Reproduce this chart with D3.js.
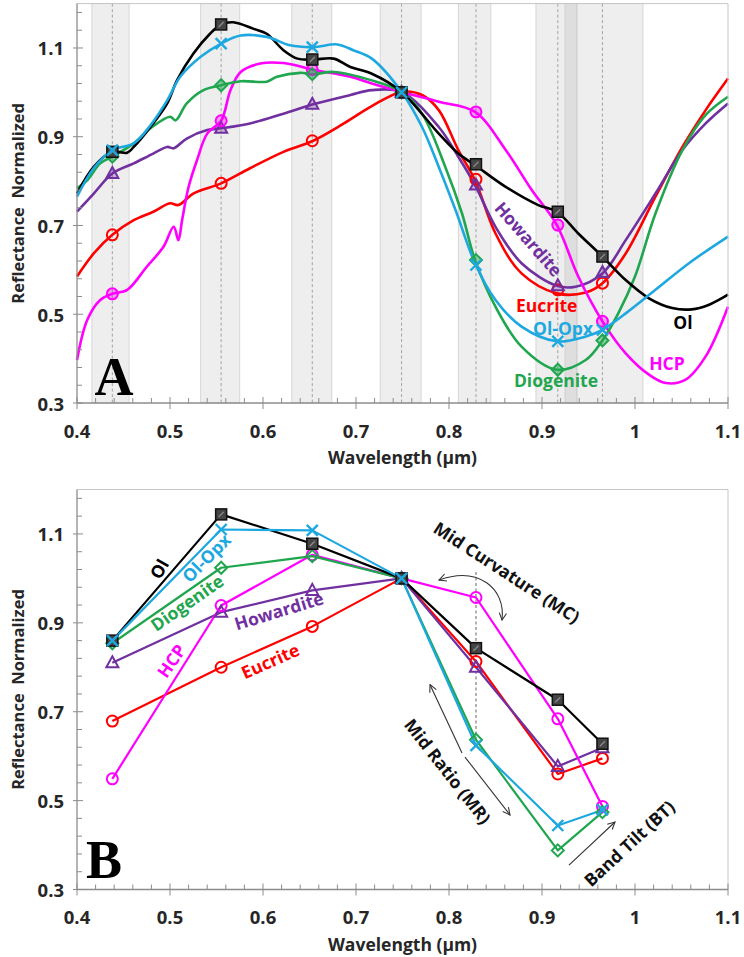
<!DOCTYPE html>
<html><head><meta charset="utf-8">
<script src="https://cdn.jsdelivr.net/npm/d3@7"></script>
<style>body{margin:0;background:#fff}svg{display:block}</style>
</head><body><svg id="c" width="744" height="957"></svg>
<script>
// ---------- DATA ----------
const xTicks = [0.4,0.5,0.6,0.7,0.8,0.9,1.0,1.1];
const xTickLabels = ["0.4","0.5","0.6","0.7","0.8","0.9","1","1.1"];
const yTicks = [0.3,0.5,0.7,0.9,1.1];
const yTickLabels = ["0.3","0.5","0.7","0.9","1.1"];
const filterWl = [0.438,0.555,0.653,0.749,0.829,0.917,0.965];
const bandLo = [0.416,0.533,0.631,0.726,0.810,0.8935,0.9247];
const bandHi = [0.456,0.575,0.674,0.770,0.845,0.9376,1.0086];

// Panel A spectra
const olX = [0.400,0.418,0.438,0.454,0.461,0.479,0.497,0.5075,0.525,0.543,0.555,0.568,0.590,0.604,0.622,0.637,0.654,0.676,0.694,0.717,0.749,0.789,0.810,0.828,0.861,0.896,0.916,0.939,0.965,0.990,1.015,1.040,1.061,1.079,1.100];
const olY = [0.772,0.832,0.866,0.864,0.877,0.922,0.975,1.027,1.087,1.132,1.153,1.158,1.143,1.132,1.095,1.076,1.074,1.076,1.057,1.042,1.001,0.907,0.862,0.836,0.787,0.746,0.731,0.682,0.630,0.577,0.536,0.514,0.511,0.521,0.544];
const opxX = [0.400,0.418,0.438,0.461,0.479,0.497,0.511,0.533,0.555,0.576,0.604,0.629,0.654,0.680,0.697,0.717,0.749,0.771,0.789,0.807,0.828,0.850,0.878,0.916,0.947,0.965,0.990,1.022,1.058,1.100];
const opxY = [0.765,0.829,0.870,0.885,0.926,0.982,1.035,1.080,1.110,1.128,1.125,1.106,1.102,1.108,1.095,1.076,1.001,0.922,0.832,0.735,0.615,0.532,0.472,0.439,0.450,0.465,0.502,0.555,0.615,0.675];
const dioX = [0.400,0.411,0.425,0.438,0.461,0.479,0.500,0.506,0.518,0.536,0.555,0.576,0.604,0.615,0.640,0.654,0.676,0.717,0.749,0.771,0.796,0.814,0.828,0.850,0.878,0.916,0.947,0.965,0.982,1.000,1.022,1.051,1.076,1.100];
const dioY = [0.784,0.802,0.840,0.855,0.885,0.919,0.945,0.937,0.975,1.005,1.016,1.025,1.024,1.035,1.044,1.041,1.046,1.027,1.001,0.952,0.832,0.727,0.622,0.517,0.427,0.375,0.397,0.441,0.502,0.585,0.727,0.870,0.949,0.990];
const howX = [0.400,0.418,0.438,0.461,0.482,0.497,0.504,0.518,0.540,0.555,0.586,0.622,0.654,0.694,0.717,0.749,0.789,0.810,0.828,0.850,0.878,0.916,0.936,0.965,0.990,1.022,1.051,1.076,1.100];
const howY = [0.731,0.772,0.817,0.840,0.862,0.877,0.874,0.896,0.915,0.919,0.930,0.952,0.973,0.994,1.005,1.001,0.922,0.855,0.791,0.697,0.615,0.564,0.562,0.592,0.667,0.772,0.870,0.930,0.975];
const eucX = [0.400,0.418,0.438,0.461,0.482,0.500,0.509,0.525,0.555,0.586,0.622,0.654,0.687,0.717,0.749,0.771,0.789,0.810,0.828,0.850,0.878,0.916,0.947,0.965,0.990,1.022,1.051,1.076,1.100];
const eucY = [0.585,0.637,0.679,0.712,0.731,0.750,0.746,0.772,0.795,0.829,0.866,0.891,0.930,0.969,1.001,0.994,0.960,0.870,0.802,0.682,0.592,0.547,0.549,0.570,0.637,0.765,0.877,0.960,1.031];
const hcpX = [0.400,0.411,0.425,0.438,0.454,0.475,0.493,0.504,0.509,0.513,0.520,0.529,0.540,0.555,0.565,0.576,0.597,0.622,0.654,0.694,0.717,0.749,0.789,0.828,0.861,0.889,0.916,0.939,0.965,0.990,1.015,1.033,1.054,1.076,1.100];
const hcpY = [0.397,0.487,0.532,0.546,0.555,0.607,0.652,0.697,0.667,0.712,0.787,0.847,0.907,0.936,1.005,1.046,1.065,1.066,1.051,1.035,1.020,1.001,0.979,0.956,0.870,0.780,0.701,0.585,0.484,0.412,0.364,0.345,0.352,0.405,0.517];

// Panel A filter-point markers
const olA  = [0.866,1.153,1.074,1.000,0.838,0.731,0.630];
const opxA = [0.870,1.110,1.102,1.000,0.611,0.439,0.465];
const dioA = [0.855,1.016,1.041,1.000,0.622,0.375,0.441];
const howA = [0.817,0.919,0.973,1.000,0.791,0.564,0.594];
const eucA = [0.679,0.795,0.891,1.000,0.804,0.555,0.570];
const hcpA = [0.546,0.936,1.051,1.000,0.956,0.701,0.484];

// Panel B filter-point values
const olB  = [0.860,1.144,1.078,1.000,0.843,0.727,0.628];
const opxB = [0.860,1.110,1.108,1.000,0.624,0.444,0.479];
const dioB = [0.854,1.024,1.050,1.000,0.637,0.388,0.474];
const howB = [0.810,0.924,0.973,1.000,0.800,0.577,0.619];
const eucB = [0.679,0.800,0.892,1.000,0.813,0.560,0.595];
const hcpB = [0.549,0.939,1.053,1.000,0.957,0.684,0.487];

const seriesNames = ["Eucrite","Howardite","HCP","Diogenite","Ol","Ol-Opx"];

// ---------- STYLE ----------
const col = {"Ol":"#000000","Ol-Opx":"#1EA8E0","Diogenite":"#1FA64E","Howardite":"#7030A0","Eucrite":"#FF0000","HCP":"#FF00FF"};
const shape = {"Ol":"square","Ol-Opx":"x","Diogenite":"diamond","Howardite":"triangle","Eucrite":"circle","HCP":"circle"};
const specA = {"Ol":[olX,olY],"Ol-Opx":[opxX,opxY],"Diogenite":[dioX,dioY],"Howardite":[howX,howY],"Eucrite":[eucX,eucY],"HCP":[hcpX,hcpY]};
const markA = {"Ol":olA,"Ol-Opx":opxA,"Diogenite":dioA,"Howardite":howA,"Eucrite":eucA,"HCP":hcpA};
const markB = {"Ol":olB,"Ol-Opx":opxB,"Diogenite":dioB,"Howardite":howB,"Eucrite":eucB,"HCP":hcpB};

const FONT = "'Open Sans', 'Liberation Sans', sans-serif";
const svg = d3.select("#c");

const defs = svg.append("defs");
defs.append("marker").attr("id","arr").attr("viewBox","0 0 10 10").attr("refX",9).attr("refY",5)
  .attr("markerWidth",9).attr("markerHeight",9).attr("markerUnits","userSpaceOnUse").attr("orient","auto-start-reverse")
  .append("path").attr("d","M1,1 L9,5 L1,9").attr("fill","none").attr("stroke","#333").attr("stroke-width",1.2);

const x = d3.scaleLinear([0.4,1.1],[77,728]);
const yA = d3.scaleLinear([0.3,1.2],[403,3.6]);
const yB = d3.scaleLinear([0.3,1.2],[889.5,489.5]);

function frame(y){
  const g = svg.append("g");
  const [bot, top] = y.range();
  g.append("line").attr("x1",x(0.4)).attr("x2",x(1.1)).attr("y1",top).attr("y2",top).attr("stroke","#c6c6c6");
  g.append("line").attr("x1",x(1.1)).attr("x2",x(1.1)).attr("y1",top).attr("y2",bot).attr("stroke","#c6c6c6");
}

function axes(y){
  const g = svg.append("g").attr("stroke","#8c8c8c");
  const [bot, top] = y.range();
  g.append("line").attr("x1",x(0.4)).attr("x2",x(1.1)).attr("y1",bot).attr("y2",bot).attr("stroke-width",1.3);
  g.append("line").attr("x1",x(0.4)).attr("x2",x(0.4)).attr("y1",bot).attr("y2",top).attr("stroke-width",1.3);
  d3.range(0.42,1.1,0.02).forEach(v=>{ if (Math.abs(v*10-Math.round(v*10))>1e-6)
    g.append("line").attr("x1",x(v)).attr("x2",x(v)).attr("y1",bot).attr("y2",bot-5); });
  xTicks.forEach(v=> g.append("line").attr("x1",x(v)).attr("x2",x(v)).attr("y1",bot+6).attr("y2",bot-6));
  d3.range(0.34,1.2,0.04).forEach(v=>{ const r=(v-0.3)/0.2; if (Math.abs(r-Math.round(r))>1e-6)
    g.append("line").attr("x1",x(0.4)).attr("x2",x(0.4)+5).attr("y1",y(v)).attr("y2",y(v)); });
  yTicks.forEach(v=> g.append("line").attr("x1",x(0.4)-4).attr("x2",x(0.4)+6).attr("y1",y(v)).attr("y2",y(v)));
  const t = svg.append("g").attr("font-family",FONT).attr("font-weight",700).attr("fill","#262626");
  xTicks.forEach((v,i)=> t.append("text").attr("x",x(v)).attr("y",bot+27).attr("text-anchor","middle")
    .attr("dominant-baseline","central").attr("font-size",18.5).text(xTickLabels[i]));
  yTicks.forEach((v,i)=> t.append("text").attr("x",x(0.4)-13).attr("y",y(v)).attr("text-anchor","end")
    .attr("dominant-baseline","central").attr("font-size",18.5).text(yTickLabels[i]));
  t.append("text").attr("x",(x(0.4)+x(1.1))/2).attr("y",bot+54).attr("text-anchor","middle")
    .attr("dominant-baseline","central").attr("font-size",17.5).text("Wavelength (µm)");
  t.append("text").attr("transform",`translate(17,${(bot+top)/2}) rotate(-90)`).attr("text-anchor","middle")
    .attr("dominant-baseline","central").attr("font-size",16.5).attr("xml:space","preserve").text("Reflectance  Normalized");
}

function marker(g, name, cx, cy, filled){
  const c = col[name], s = shape[name];
  if (s==="square"){
    g.append("rect").attr("x",cx-5.5).attr("y",cy-5.5).attr("width",11).attr("height",11)
      .attr("fill","#444").attr("stroke","#111").attr("stroke-width",1.5);
    g.append("path").attr("d",`M${cx-2.5},${cy+2.5}L${cx+2.5},${cy-2.5}`).attr("stroke","#8a8a8a").attr("stroke-width",1.3);
  } else if (s==="x"){
    g.append("path").attr("d",`M${cx-5.5},${cy-5.5}L${cx+5.5},${cy+5.5}M${cx-5.5},${cy+5.5}L${cx+5.5},${cy-5.5}`)
      .attr("stroke",c).attr("stroke-width",2.4);
  } else if (s==="diamond"){
    g.append("path").attr("d",`M${cx},${cy-6}L${cx+6},${cy}L${cx},${cy+6}L${cx-6},${cy}Z`)
      .attr("fill",filled?c:"#fff").attr("fill-opacity",filled?0.45:0.0).attr("stroke",c).attr("stroke-width",2);
  } else if (s==="triangle"){
    g.append("path").attr("d",`M${cx},${cy-6.5}L${cx+6},${cy+4.5}L${cx-6},${cy+4.5}Z`)
      .attr("fill",c).attr("fill-opacity",filled?0.3:0).attr("stroke",c).attr("stroke-width",2);
  } else {
    g.append("circle").attr("cx",cx).attr("cy",cy).attr("r",5.5)
      .attr("fill",c).attr("fill-opacity",(name==="HCP"&&filled)?0.35:0).attr("stroke",c).attr("stroke-width",2);
  }
}

function label(g, y, txt, xv, yv, rot, color, size){
  g.append("text").attr("transform",`translate(${x(xv)},${y(yv)}) rotate(${rot})`)
    .attr("text-anchor","middle").attr("dominant-baseline","central")
    .attr("font-family",FONT).attr("font-weight",700).attr("font-size",size||17.5).attr("fill",color).text(txt);
}

// ---------- PANEL A ----------
const gA = svg.append("g");
bandLo.forEach((lo,i)=>{
  gA.append("rect").attr("x",x(lo)).attr("y",yA(1.2)).attr("width",x(bandHi[i])-x(lo)).attr("height",yA(0.3)-yA(1.2))
    .attr("fill","#000").attr("fill-opacity",0.065).attr("stroke","#cfcfcf").attr("stroke-width",0.8);
});
filterWl.forEach(w=> gA.append("line").attr("x1",x(w)).attr("x2",x(w)).attr("y1",yA(1.2)).attr("y2",yA(0.3))
  .attr("stroke","#9a9a9a").attr("stroke-width",0.9).attr("stroke-dasharray","3,2.5"));
frame(yA);
axes(yA);
const lineA = d3.line().x(d=>x(d[0])).y(d=>yA(d[1])).curve(d3.curveCatmullRom.alpha(0.5));
seriesNames.forEach(n=>{
  const [xs,ys] = specA[n];
  gA.append("path").datum(xs.map((v,i)=>[v,ys[i]])).attr("d",lineA).attr("fill","none")
    .attr("stroke",col[n]).attr("stroke-width",2.6).attr("stroke-linejoin","round");
});
seriesNames.forEach(n=> markA[n].forEach((v,i)=> marker(gA,n,x(filterWl[i]),yA(v),true)));

label(gA,yA,"Howardite",0.886,0.670,49,col["Howardite"]);
label(gA,yA,"Eucrite",0.905,0.521,0,col["Eucrite"]);
label(gA,yA,"Ol-Opx",0.9226,0.469,0,col["Ol-Opx"]);
label(gA,yA,"Ol",1.0516,0.4825,0,col["Ol"]);
label(gA,yA,"HCP",1.0344,0.390,0,col["HCP"]);
label(gA,yA,"Diogenite",0.915,0.352,0,col["Diogenite"]);
gA.append("text").attr("x",x(0.4)+37).attr("y",yA(0.3)-8).attr("text-anchor","middle")
  .attr("font-family","'Liberation Serif', serif").attr("font-weight",700).attr("font-size",54).attr("fill","#000").text("A");

// ---------- PANEL B ----------
const gB = svg.append("g");
frame(yB);
axes(yB);
const lineB = d3.line().x(d=>x(d[0])).y(d=>yB(d[1]));
gB.append("line").attr("x1",x(0.829)).attr("x2",x(0.829)).attr("y1",yB(1.0144)).attr("y2",yB(0.636))
  .attr("stroke","#555").attr("stroke-width",0.9).attr("stroke-dasharray","3,2.5");
seriesNames.forEach(n=>{
  gB.append("path").datum(filterWl.map((w,i)=>[w,markB[n][i]])).attr("d",lineB).attr("fill","none")
    .attr("stroke",col[n]).attr("stroke-width",2.2).attr("stroke-linejoin","round");
});
seriesNames.forEach(n=> markB[n].forEach((v,i)=> marker(gB,n,x(filterWl[i]),yB(v),false)));

label(gB,yB,"Ol",0.488,1.022,-60,col["Ol"]);
label(gB,yB,"Ol-Opx",0.5387,1.047,-45,col["Ol-Opx"]);
label(gB,yB,"Diogenite",0.518,0.946,-35,col["Diogenite"]);
label(gB,yB,"Howardite",0.617,0.928,-17,col["Howardite"]);
label(gB,yB,"HCP",0.501,0.815,-55,col["HCP"]);
label(gB,yB,"Eucrite",0.6075,0.815,-24,col["Eucrite"]);

const ann = svg.append("g").attr("fill","none").attr("stroke","#333").attr("stroke-width",1.1);
ann.append("path").attr("d",`M${x(0.857)},${yB(0.906)} C${x(0.8613)},${yB(0.9784)} ${x(0.8312)},${yB(1.028)} ${x(0.7892)},${yB(0.9964)}`)
  .attr("marker-start","url(#arr)").attr("marker-end","url(#arr)");
ann.append("line").attr("x1",x(0.814)).attr("y1",yB(0.607)).attr("x2",x(0.7796)).attr("y2",yB(0.7608)).attr("marker-end","url(#arr)");
ann.append("line").attr("x1",x(0.8172)).attr("y1",yB(0.598)).attr("x2",x(0.8656)).attr("y2",yB(0.4676)).attr("marker-end","url(#arr)");
ann.append("line").attr("x1",x(0.929)).attr("y1",yB(0.355)).attr("x2",x(0.9785)).attr("y2",yB(0.4519)).attr("marker-end","url(#arr)");
label(gB,yB,"Mid Curvature (MC)",0.8624,1.0144,33,"#111",17.5);
label(gB,yB,"Mid Ratio (MR)",0.799,0.5667,52,"#111",17.5);
label(gB,yB,"Band Tilt (BT)",0.9935,0.4046,-43,"#111",17.5);
gB.append("text").attr("x",x(0.4)+27).attr("y",yB(0.3)-12).attr("text-anchor","middle")
  .attr("font-family","'Liberation Serif', serif").attr("font-weight",700).attr("font-size",54).attr("fill","#000").text("B");
</script></body></html>
